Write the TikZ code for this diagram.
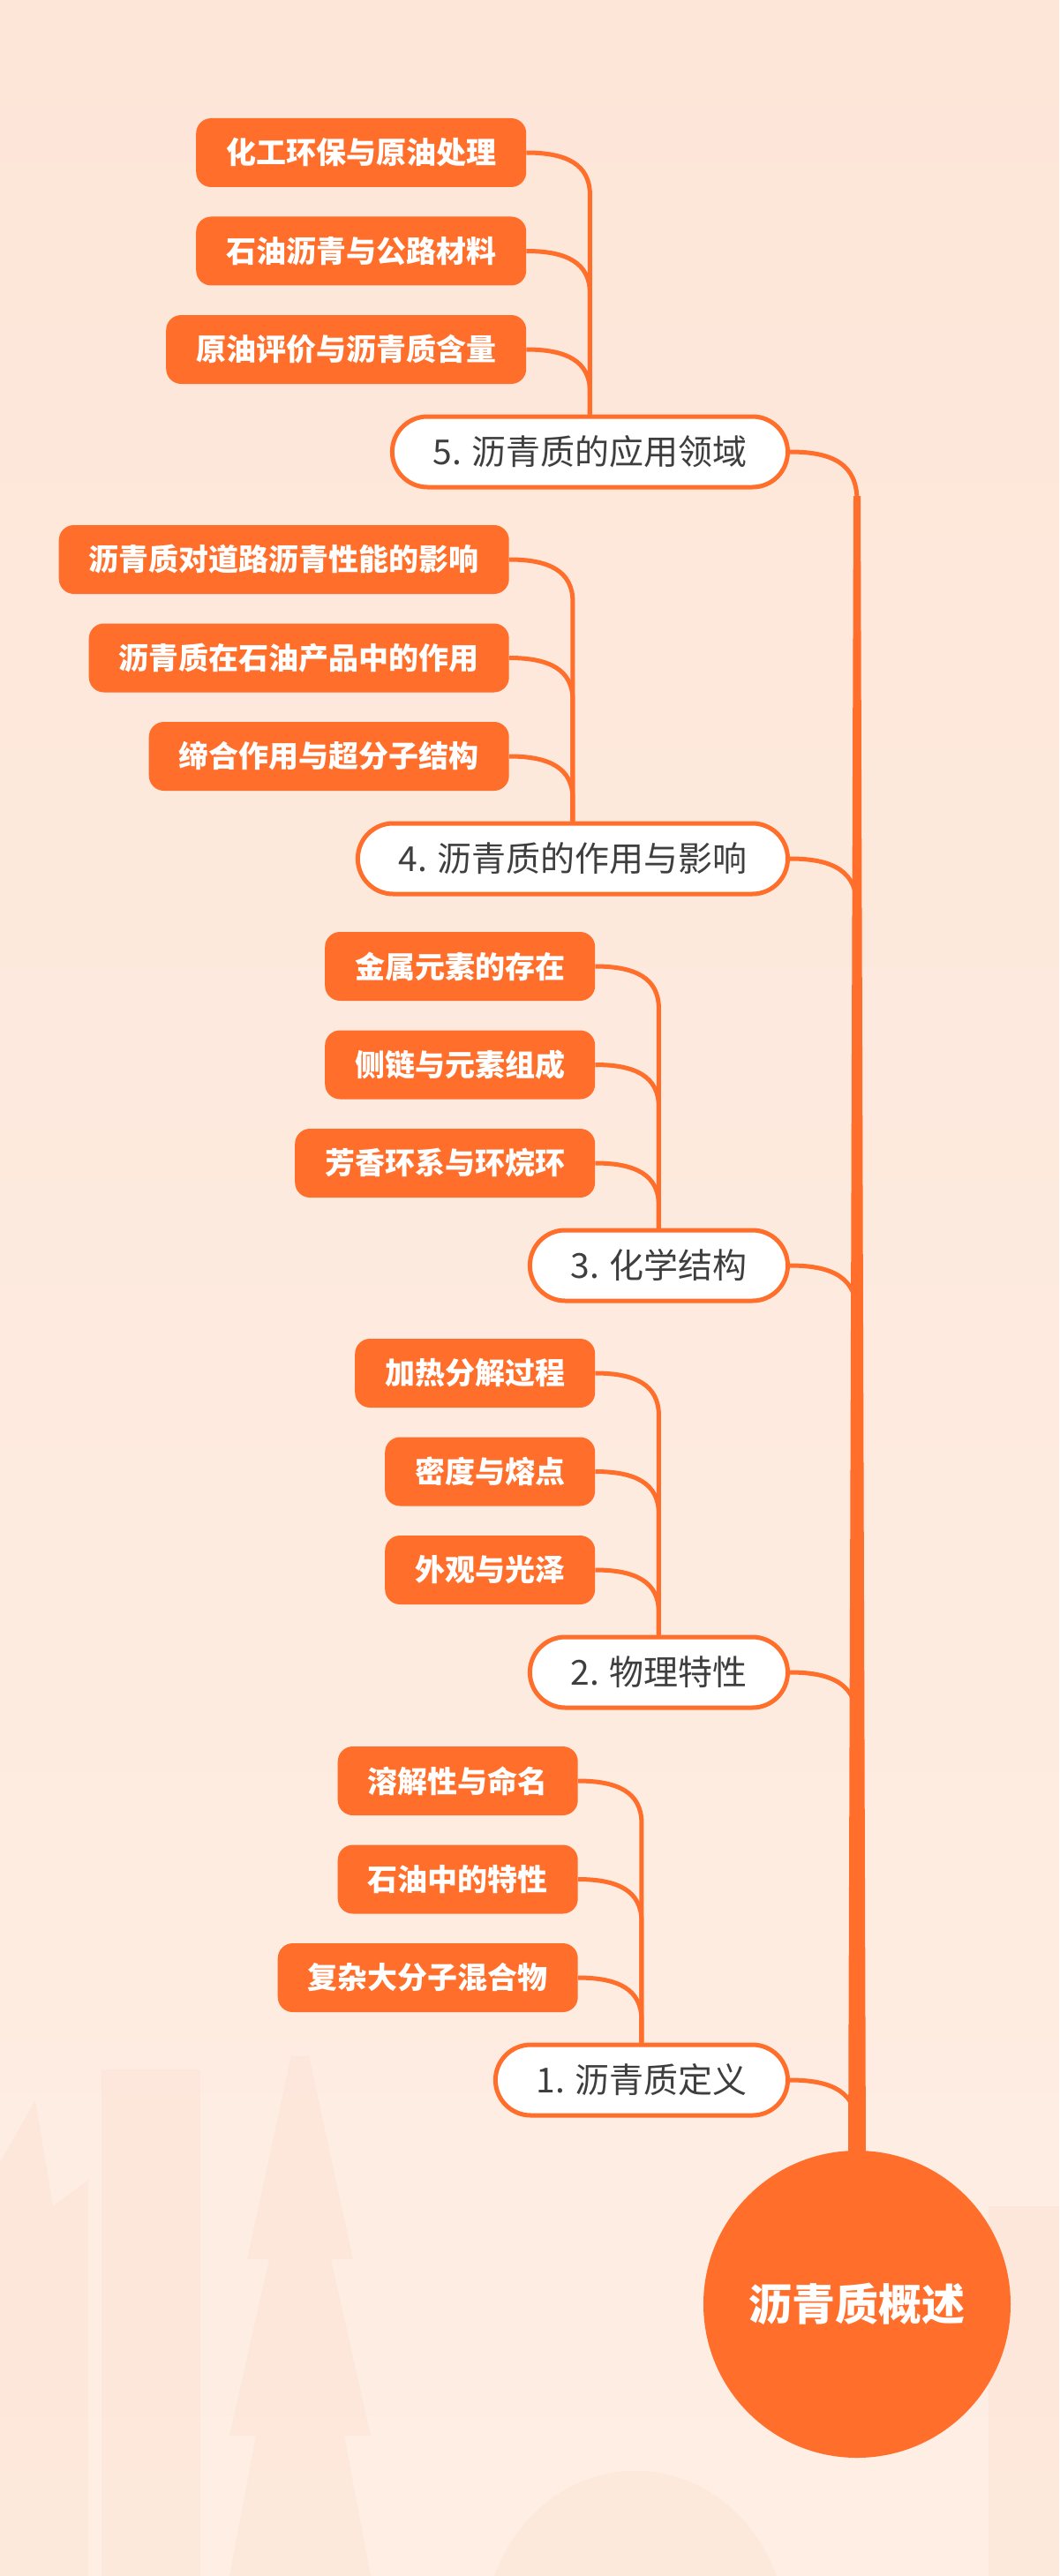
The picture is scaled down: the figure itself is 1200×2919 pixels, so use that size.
\documentclass[tikz,border=0pt]{standalone}
\usepackage{fontspec}
\setmainfont{Noto Sans CJK SC}
\usetikzlibrary{calc}
\definecolor{asphaltOrange}{RGB}{255,110,42}
\definecolor{inkGrey}{RGB}{62,62,62}
\definecolor{peachTop}{RGB}{253,230,216}
\definecolor{peachMid}{RGB}{255,244,237}
\definecolor{peachLow}{RGB}{254,238,228}
\definecolor{skyline}{RGB}{250,196,172}
\tikzset{
  topicBox/.style={draw=asphaltOrange,fill=white,line width=5pt,rounded corners=40pt,
                   minimum height=80pt,inner xsep=46pt,text=inkGrey,
                   font=\fontsize{39}{39}\selectfont},
  subBox/.style={fill=asphaltOrange,rounded corners=17pt,minimum height=78pt,inner xsep=34pt,
                 text=white,font=\bfseries\fontsize{34}{34}\selectfont},
  twig/.style={draw=asphaltOrange,line width=5pt},
}

\begin{document}
\begin{tikzpicture}[x=1pt,y=-1pt]
  \useasboundingbox (0,0) rectangle (1200,2919);
  \fill[top color=peachTop,middle color=peachMid,bottom color=peachLow] (0,0) rectangle (1200,2919);
  \begin{scope}[fill=skyline,opacity=0.13]
    \fill (115,2345) rectangle (227,2919);
    \fill (0,2450) -- (40,2380) -- (60,2500) -- (100,2470) -- (100,2919) -- (0,2919) -- cycle;
    \fill (330,2330) -- (350,2330) -- (400,2560) -- (375,2560) -- (420,2760) -- (390,2760) -- (420,2919)
          -- (260,2919) -- (290,2760) -- (260,2760) -- (305,2560) -- (280,2560) -- cycle;
    \fill (560,2919) .. controls (620,2760) and (820,2760) .. (880,2919) -- cycle;
    \fill (1120,2500) rectangle (1200,2919);
  \end{scope}

  \foreach \n/\y/\txt in {5/512/{5. 沥青质的应用领域},4/973/{4. 沥青质的作用与影响},
                          3/1434/{3. 化学结构},2/1895/{2. 物理特性},1/2357/{1. 沥青质定义}}
    \node[topicBox,anchor=east] (t\n) at (895,\y) {\txt};

  \foreach \n/\k/\txt in {5/1/化工环保与原油处理,5/2/石油沥青与公路材料,5/3/原油评价与沥青质含量,
                          4/1/沥青质对道路沥青性能的影响,4/2/沥青质在石油产品中的作用,4/3/缔合作用与超分子结构,
                          3/1/金属元素的存在,3/2/侧链与元素组成,3/3/芳香环系与环烷环,
                          2/1/加热分解过程,2/2/密度与熔点,2/3/外观与光泽,
                          1/1/溶解性与命名,1/2/石油中的特性,1/3/复杂大分子混合物}{
    \node[subBox,anchor=east] (s\n\k) at ($(t\n.center)+(-72,{-116-(3-\k)*111.5})$) {\txt};
    \draw[twig] (s\n\k.east) .. controls +(45,0) and +(0,-35) .. ($(s\n\k.east)+(72,48)$) -- (t\n.north);
  }

  \node[circle,fill=asphaltOrange,minimum size=348pt,text=white,
        font=\bfseries\fontsize{49}{49}\selectfont] (root) at (971,2611) {沥青质概述};

  \fill[asphaltOrange] ($(t5.east)+(72,50)$) -- ($(t5.east)+(80,50)$)
    -- ($(root.north)+(10,10)$) -- ($(root.north)+(-10,10)$) -- cycle;
  \foreach \n in {5,4,3,2,1}
    \draw[twig] (t\n.east) .. controls +(50,0) and +(0,-40) .. ($(t\n.east)+(76,55)$);
\end{tikzpicture}
\end{document}
